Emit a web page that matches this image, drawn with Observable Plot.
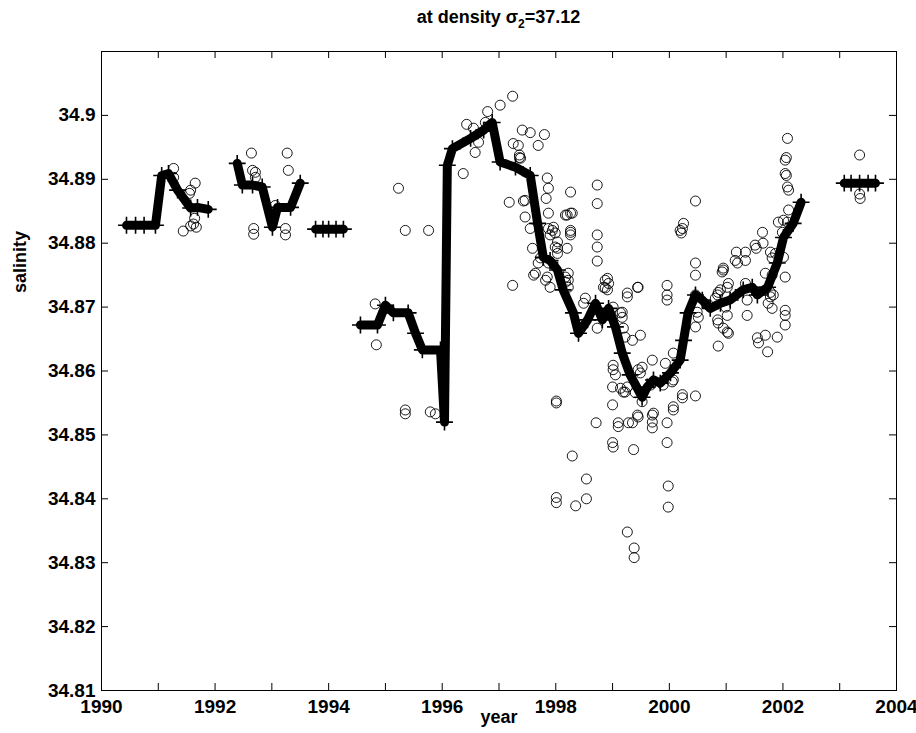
<!DOCTYPE html>
<html><head><meta charset="utf-8">
<script src="https://cdn.jsdelivr.net/npm/d3@7"></script>
<script src="https://cdn.jsdelivr.net/npm/@observablehq/plot@0.6"></script>
<style>
body{margin:0;background:#fff;font-family:"Liberation Sans",Arial,sans-serif;}
#title{position:relative;width:916px;height:30px;}
#title div{position:absolute;left:101px;width:795px;top:8px;text-align:center;font-weight:bold;font-size:18px;line-height:18px;}
#title sub{font-size:12px;vertical-align:-5px;line-height:0;}
</style></head><body>
<div id="title"><div>at density σ<sub>2</sub>=37.12</div></div>
<div id="chart"></div>
<script>
// ---- data (year, salinity) ----
const yearTicks = [1990,1991,1992,1993,1994,1995,1996,1997,1998,1999,2000,2001,2002,2003,2004];
const yearLabels = [1990,1992,1994,1996,1998,2000,2002,2004];
const salTicks = [34.81,34.82,34.83,34.84,34.85,34.86,34.87,34.88,34.89,34.90,34.91];
const salLabels = [34.81,34.82,34.83,34.84,34.85,34.86,34.87,34.88,34.89,34.90];

// smoothed series (thick line), one array per continuous stretch
const seg1991 = [[1990.44,34.8828],[1990.6,34.8828],[1990.75,34.8828],[1990.95,34.8828],[1991.06,34.8906],[1991.18,34.8909],[1991.34,34.8883],[1991.57,34.8855],[1991.69,34.8856],[1991.88,34.8853]];
const seg1993 = [[1992.39,34.8925],[1992.48,34.8891],[1992.66,34.8891],[1992.83,34.8888],[1993.01,34.8825],[1993.10,34.8856],[1993.33,34.8856],[1993.50,34.8894]];
const seg1994 = [[1993.77,34.8822],[1993.9,34.8822],[1994.0,34.8822],[1994.13,34.8822],[1994.26,34.8822]];
const segMain = [[1994.56,34.8672],[1994.86,34.8672],[1995.00,34.8703],[1995.14,34.8691],[1995.40,34.8691],[1995.53,34.8659],[1995.65,34.8633],[1995.97,34.8633],[1996.04,34.8520],[1996.09,34.8922],[1996.18,34.8948],[1996.50,34.8964],[1996.73,34.8977],[1996.88,34.8989],[1997.02,34.8927],[1997.29,34.8919],[1997.55,34.8906],[1997.68,34.8831],[1997.78,34.8778],[1997.90,34.8773],[1998.03,34.8758],[1998.13,34.8727],[1998.31,34.8691],[1998.40,34.8659],[1998.56,34.8680],[1998.70,34.8706],[1998.82,34.8680],[1998.93,34.8698],[1999.05,34.8669],[1999.17,34.8628],[1999.31,34.8594],[1999.52,34.8559],[1999.61,34.8575],[1999.72,34.8586],[1999.84,34.8581],[2000.02,34.8597],[2000.19,34.8617],[2000.25,34.8648],[2000.33,34.8691],[2000.46,34.8719],[2000.58,34.8711],[2000.72,34.8698],[2000.90,34.8706],[2001.07,34.8711],[2001.30,34.8727],[2001.46,34.8731],[2001.55,34.8719],[2001.73,34.8731],[2001.90,34.8769],[2002.01,34.8809],[2002.18,34.8831],[2002.32,34.8864]];
const seg2003 = [[2003.08,34.8894],[2003.2,34.8894],[2003.35,34.8894],[2003.5,34.8894],[2003.63,34.8894]];

// individual observations (open circles)
const obs1991_1993 = [[1991.27,34.8917],[1991.27,34.8903],[1991.65,34.8894],[1991.57,34.8883],[1991.55,34.8878],[1991.64,34.8839],[1991.44,34.8819],[1991.57,34.8827],[1991.67,34.8825],[1991.62,34.8830],[1992.64,34.8941],[1992.66,34.8914],[1992.71,34.8911],[1992.71,34.8903],[1992.68,34.8823],[1992.68,34.8814],[1993.06,34.8859],[1993.24,34.8823],[1993.24,34.8813],[1993.27,34.8941],[1993.29,34.8914]];
const obs1995 = [[1995.23,34.8886],[1995.35,34.8820],[1995.76,34.8820],[1994.82,34.8705],[1994.84,34.8641],[1995.35,34.8539],[1995.35,34.8533],[1995.79,34.8536],[1995.88,34.8533]];
const obs1996_1997 = [[1996.37,34.8909],[1996.43,34.8986],[1996.55,34.8980],[1996.58,34.8942],[1996.64,34.8958],[1996.76,34.8989],[1996.80,34.9006],[1997.02,34.9016],[1997.24,34.9030],[1997.41,34.8977],[1997.55,34.8973],[1997.80,34.8970],[1997.69,34.8953],[1997.25,34.8956],[1997.34,34.8953],[1997.36,34.8938],[1997.36,34.8934],[1997.38,34.8933],[1997.18,34.8864],[1997.43,34.8866],[1997.46,34.8867],[1997.46,34.8841],[1997.55,34.8823],[1997.24,34.8734],[1997.59,34.8792],[1997.73,34.8777],[1997.61,34.8750],[1997.64,34.8753],[1997.69,34.8769],[1997.82,34.8742],[1997.85,34.8747],[1997.85,34.8902],[1997.87,34.8886],[1997.83,34.8870],[1997.87,34.8847],[1997.87,34.8823],[1997.87,34.8769],[1997.90,34.8813],[1997.90,34.8731],[1997.94,34.8820],[1997.96,34.8825],[1997.99,34.8816],[1997.99,34.8794]];
const obs1998 = [[1998.03,34.8802],[1998.03,34.8792],[1998.03,34.8784],[1998.17,34.8844],[1998.20,34.8844],[1998.26,34.8847],[1998.29,34.8847],[1998.26,34.8880],[1998.26,34.8817],[1998.26,34.8820],[1998.26,34.8813],[1998.20,34.8792],[1998.22,34.8753],[1998.22,34.8742],[1998.22,34.8731],[1998.17,34.8747],[1998.17,34.8739],[1998.73,34.8891],[1998.73,34.8862],[1998.73,34.8813],[1998.73,34.8794],[1998.73,34.8772],[1998.73,34.8667],[1998.71,34.8519],[1998.52,34.8714],[1998.49,34.8706],[1998.87,34.8742],[1998.91,34.8745],[1998.93,34.8737],[1998.87,34.8730],[1998.91,34.8727],[1998.84,34.8731],[1998.01,34.8553],[1998.01,34.8550],[1998.29,34.8467],[1998.54,34.8431],[1998.54,34.8400],[1998.01,34.8402],[1998.01,34.8394],[1998.35,34.8389]];
const obs1999 = [[1999.26,34.8722],[1999.26,34.8716],[1999.44,34.8731],[1999.45,34.8731],[1999.01,34.8700],[1999.14,34.8691],[1999.17,34.8692],[1999.17,34.8684],[1999.19,34.8667],[1999.22,34.8653],[1999.35,34.8648],[1999.49,34.8656],[1999.01,34.8609],[1999.01,34.8602],[1999.05,34.8594],[1999.45,34.8602],[1999.49,34.8597],[1999.52,34.8606],[1999.70,34.8617],[1999.93,34.8612],[1999.00,34.8575],[1999.14,34.8573],[1999.19,34.8567],[1999.22,34.8567],[1999.26,34.8575],[1999.40,34.8566],[1999.00,34.8547],[1999.52,34.8552],[1999.67,34.8578],[1999.89,34.8578],[1999.44,34.8531],[1999.45,34.8528],[1999.10,34.8519],[1999.10,34.8513],[1999.28,34.8519],[1999.35,34.8519],[1999.70,34.8531],[1999.70,34.8520],[1999.70,34.8511],[1999.72,34.8534],[1999.96,34.8519],[1999.00,34.8488],[1999.01,34.8481],[1999.37,34.8477],[1999.96,34.8488],[1999.26,34.8348],[1999.38,34.8323],[1999.38,34.8308],[1999.96,34.8734],[1999.96,34.8719],[1999.96,34.8711]];
const obs2000 = [[2000.05,34.8583],[2000.07,34.8628],[2000.07,34.8586],[2000.07,34.8544],[2000.07,34.8539],[2000.23,34.8563],[2000.23,34.8558],[2000.46,34.8561],[1999.98,34.8420],[1999.98,34.8387],[2000.46,34.8866],[2000.25,34.8831],[2000.23,34.8823],[2000.21,34.8816],[2000.19,34.8820],[2000.46,34.8769],[2000.46,34.8750],[2000.49,34.8692],[2000.51,34.8684],[2000.46,34.8669],[2000.46,34.8719],[2000.81,34.8714],[2000.85,34.8719],[2000.86,34.8723],[2000.90,34.8727],[2000.93,34.8755],[2000.95,34.8758],[2000.95,34.8761],[2000.99,34.8700],[2000.85,34.8680],[2000.86,34.8675],[2000.95,34.8667],[2000.86,34.8639]];
const obs2001_2002 = [[2001.02,34.8731],[2001.04,34.8737],[2001.02,34.8687],[2001.02,34.8661],[2001.04,34.8659],[2001.16,34.8773],[2001.18,34.8786],[2001.20,34.8769],[2001.34,34.8773],[2001.34,34.8786],[2001.34,34.8737],[2001.37,34.8687],[2001.37,34.8711],[2001.51,34.8797],[2001.53,34.8792],[2001.64,34.8817],[2001.65,34.8800],[2001.69,34.8753],[2001.74,34.8706],[2001.78,34.8786],[2001.78,34.8723],[2001.78,34.8716],[2001.81,34.8777],[2001.81,34.8750],[2001.81,34.8698],[2001.83,34.8719],[2001.87,34.8784],[2001.55,34.8652],[2001.57,34.8644],[2001.69,34.8656],[2001.73,34.8630],[2001.90,34.8653],[2001.92,34.8833],[2001.99,34.8817],[2002.01,34.8836],[2002.01,34.8778],[2002.04,34.8747],[2002.04,34.8695],[2002.04,34.8687],[2002.04,34.8672],[2002.04,34.8909],[2002.04,34.8930],[2002.06,34.8934],[2002.06,34.8906],[2002.08,34.8964],[2002.08,34.8888],[2002.08,34.8833],[2002.10,34.8883],[2002.10,34.8852]];
const obs2003 = [[2003.35,34.8938],[2003.35,34.8877],[2003.36,34.8870]];

// ---- build tables ----
const lineRows = [];
[seg1991, seg1993, seg1994, segMain, seg2003].forEach((s, i) =>
  s.forEach(([year, sal]) => lineRows.push({year, sal, seg: i})));
const obsRows = [...obs1991_1993, ...obs1995, ...obs1996_1997, ...obs1998, ...obs1999, ...obs2000, ...obs2001_2002, ...obs2003]
  .map(([year, sal]) => ({year, sal}));

const W = 916, H = 703, mL = 101, mR = 20, mT = 21, mB = 43;
const innerW = W - mL - mR, innerH = H - mT - mB, tk = 7;
const font = '"Liberation Sans", Arial, sans-serif';

const chart = Plot.plot({
  width: W, height: H,
  marginLeft: mL, marginRight: mR, marginTop: mT, marginBottom: mB,
  x: {domain: [1990, 2004]},
  y: {domain: [34.81, 34.91]},
  style: {fontFamily: font, fontSize: "19px", fontWeight: "bold", color: "black", background: "white", overflow: "visible"},
  marks: [
    Plot.dot(obsRows, {x: "year", y: "sal", r: 5, stroke: "black", strokeWidth: 0.9, fill: "none"}),
    Plot.line(lineRows, {x: "year", y: "sal", z: "seg", stroke: "black", strokeWidth: 9, strokeLinejoin: "round"}),
    Plot.dot(lineRows, {x: "year", y: "sal", symbol: "plus", r: 5.5, stroke: "black", strokeWidth: 1.6}),
    Plot.frame({stroke: "black", strokeWidth: 1}),
    Plot.ruleX(yearTicks, {x: d => d, insetTop: innerH - tk, stroke: "black"}),
    Plot.ruleX(yearTicks, {x: d => d, insetBottom: innerH - tk, stroke: "black"}),
    Plot.ruleY(salTicks, {y: d => d, insetRight: innerW - tk, stroke: "black"}),
    Plot.ruleY(salTicks, {y: d => d, insetLeft: innerW - tk, stroke: "black"}),
    Plot.axisX(yearLabels, {tickSize: 0, tickPadding: 9, label: null, tickFormat: d => String(d), fontSize: 19}),
    Plot.axisY(salLabels, {tickSize: 0, tickPadding: 6, label: null, tickFormat: d => String(+d.toFixed(2)), fontSize: 19}),
    Plot.text(["year"], {frameAnchor: "bottom", dy: 32, fontSize: 18, fontWeight: "bold"}),
    Plot.text(["salinity"], {frameAnchor: "left", dx: -81, dy: -78, rotate: -90, fontSize: 18, fontWeight: "bold"})
  ]
});
document.getElementById("chart").appendChild(chart);
</script>
</body></html>
